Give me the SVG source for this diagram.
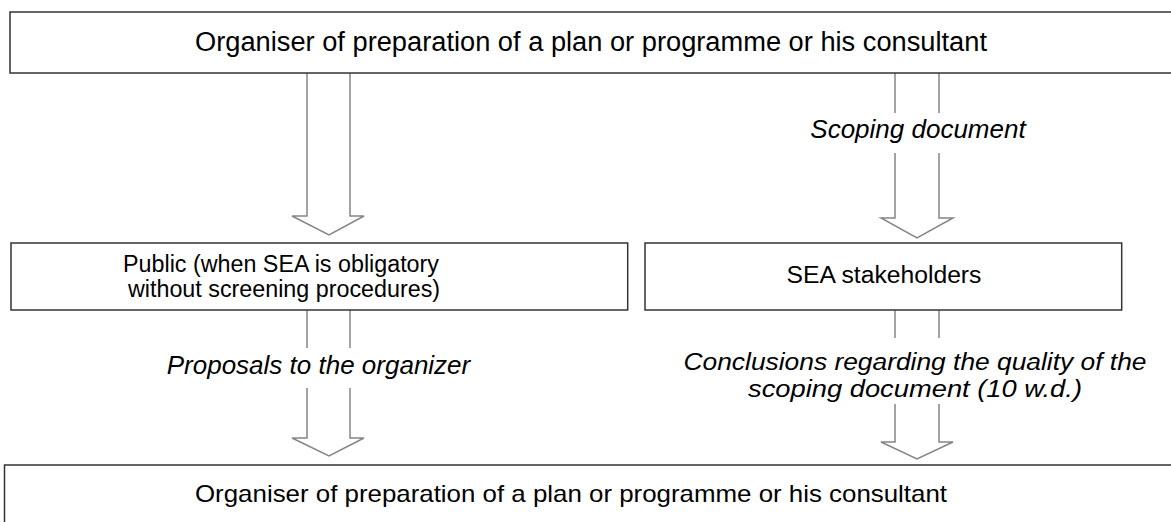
<svg xmlns="http://www.w3.org/2000/svg" width="1171" height="522" viewBox="0 0 1171 522">
<style>
.box{fill:#fff;stroke:#333;stroke-width:1.5}
.arr{fill:none;stroke:#858585;stroke-width:1.5;stroke-linejoin:miter}
.t{font-family:"Liberation Sans",Arial,sans-serif;fill:#000}
.i{font-style:italic}
</style>
<rect width="1171" height="522" fill="#fff"/>
<g id="connectors">
<path class="arr" d="M307,73 V216 H292 L329,235 L364,216 H350 V73"/>
<path class="arr" d="M895,73 V113 M939,73 V113 M895,153 V218 H881 L917,238 L953,218 H939 V153"/>
<text class="t i" x="918" y="138" font-size="26" text-anchor="middle">Scoping document</text>
<path class="arr" d="M307,310 V348 M350,310 V348 M307,388 V438 H292 L329,456 L364,438 H350 V388"/>
<text class="t i" x="318.5" y="374" font-size="26" text-anchor="middle">Proposals to the organizer</text>
<path class="arr" d="M895,310 V338 M939,310 V338 M895,404 V442 H881 L917,459 L953,442 H939 V404"/>
<text class="t i" font-size="24.5" text-anchor="middle"><tspan x="915" y="369.5" textLength="463" lengthAdjust="spacingAndGlyphs">Conclusions regarding the quality of the</tspan><tspan x="915" y="397" textLength="334" lengthAdjust="spacingAndGlyphs">scoping document (10 w.d.)</tspan></text>
</g>
<g id="node-top">
<rect class="box" x="10" y="12" width="1170" height="61"/>
<text class="t" x="195" y="50.5" font-size="27" textLength="792" lengthAdjust="spacingAndGlyphs">Organiser of preparation of a plan or programme or his consultant</text>
</g>
<g id="node-public">
<rect class="box" x="11" y="243" width="616.7" height="67"/>
<text class="t" x="281" y="271.5" font-size="23.3" text-anchor="middle">Public (when SEA is obligatory</text>
<text class="t" x="284" y="297" font-size="23.3" text-anchor="middle">without screening procedures)</text>
</g>
<g id="node-stakeholders">
<rect class="box" x="645" y="243" width="476.7" height="67"/>
<text class="t" x="884" y="283.3" font-size="24.7" text-anchor="middle">SEA stakeholders</text>
</g>
<g id="node-bottom">
<rect class="box" x="4.5" y="465" width="1180" height="70"/>
<text class="t" x="195" y="501.7" font-size="24" textLength="752" lengthAdjust="spacingAndGlyphs">Organiser of preparation of a plan or programme or his consultant</text>
</g>
</svg>
